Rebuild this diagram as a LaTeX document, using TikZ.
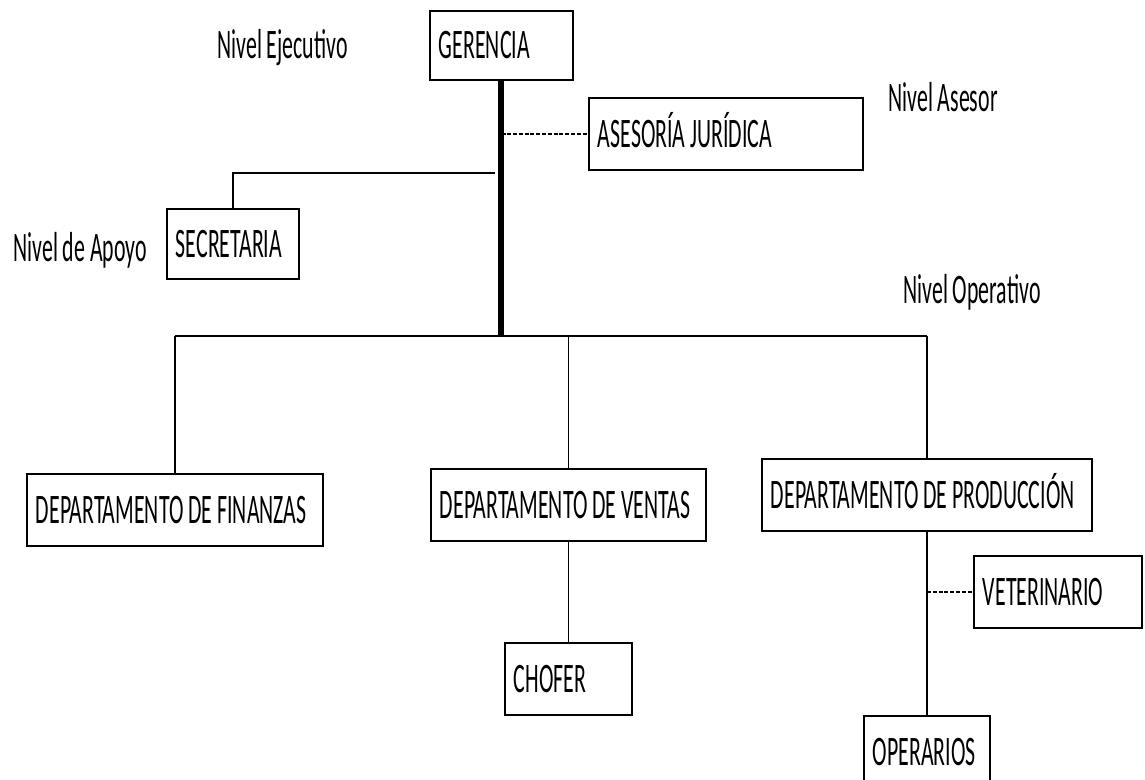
\documentclass[tikz,border=0pt]{standalone}
\usepackage{fontspec}
\setmainfont{Carlito}[FakeStretch=0.52]
\usepackage{tikz}
\usetikzlibrary{positioning, calc}
\newcommand{\fuentecaja}{\fontsize{23.9pt}{28pt}\selectfont\hyphenpenalty=10000\relax}

\begin{document}
\begin{tikzpicture}[
    x=0.02cm, y=-0.02cm,
    node distance=2cm,
    caja/.style={draw, line width=1.1pt, anchor=north west, minimum height=1.44cm, inner xsep=0.18cm, inner ysep=0pt, align=flush left, text height=15.4pt, text depth=0pt, font=\fuentecaja},
    nivel/.style={anchor=base west, inner sep=0pt, font=\fontsize{23.9pt}{28pt}\selectfont},
    linea/.style={line width=0.9pt},
    tronco/.style={line width=3.4pt},
    punteada/.style={line width=0.9pt, dash pattern=on 2.3pt off 1pt}
]
\useasboundingbox (0,0) rectangle (1145,780);

\node[caja, text width=2.50cm, minimum height=1.38cm] (gerencia) at (429,10) {GERENCIA};
\node[caja, text width=5.12cm] (asesoria) at (588,97) {ASESORÍA JURÍDICA};
\node[caja, text width=2.28cm, minimum height=1.40cm] (secretaria) at (166,208) {SECRETARIA};
\node[caja, text width=5.56cm] (finanzas) at (26,473) {DEPARTAMENTO~DE~FINANZAS};
\node[caja, text width=5.14cm] (ventas) at (430,468) {DEPARTAMENTO~DE~VENTAS};
\node[caja, text width=6.24cm] (produccion) at (761,458) {DEPARTAMENTO~DE~PRODUCCIÓN};
\node[caja, text width=2.18cm, below=2cm of ventas] (chofer) {CHOFER};
\node[caja, text width=3.00cm] (veterinario) at (973,555) {VETERINARIO};
\node[caja, text width=2.16cm, below=3.66cm of produccion] (operarios) {OPERARIOS};

\node[nivel] (ejecutivo) at (217,59) {Nivel Ejecutivo};
\node[nivel] (asesor) at (888,112) {Nivel Asesor};
\node[nivel] (apoyo) at (13,262) {Nivel de Apoyo};
\node[nivel] (operativo) at (903,303) {Nivel Operativo};

\path (gerencia.south) ++(0,255) coordinate (barra);
\coordinate (rama) at (495,173);

\draw[tronco] (gerencia.south) -- (barra);
\draw[linea] (finanzas.north |- barra) -- (produccion.north |- barra);
\foreach \d in {finanzas, ventas, produccion}
    \draw[linea] (\d.north) -- (\d.north |- barra);
\draw[linea] (rama) -| (secretaria.north);
\draw[punteada] (barra |- asesoria.west) -- (asesoria.west);
\draw[linea] (ventas) -- (chofer);
\draw[linea] (produccion) -- (operarios);
\draw[punteada] (produccion.south |- veterinario.west) -- (veterinario.west);

\end{tikzpicture}
\end{document}
